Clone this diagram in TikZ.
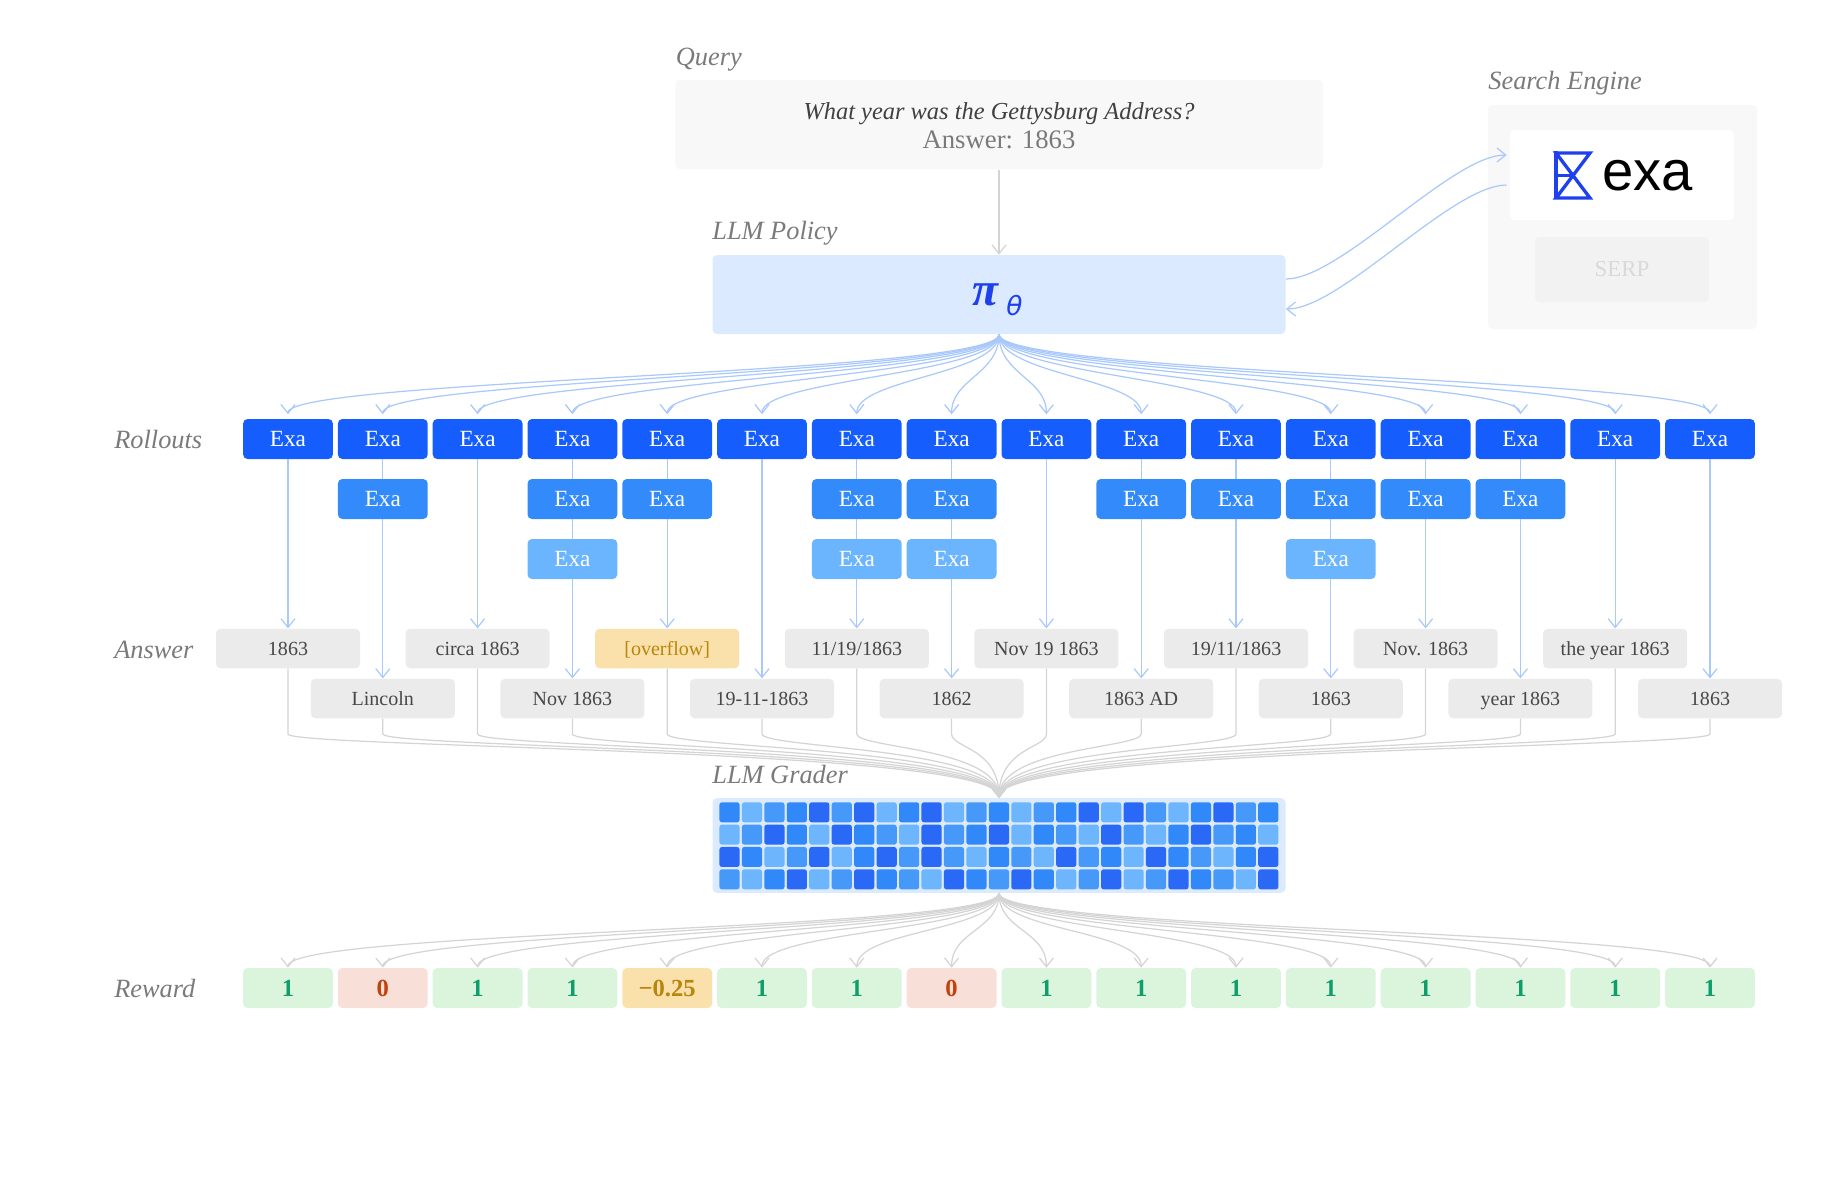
\documentclass[tikz,border=0pt]{standalone}
\usepackage{fontspec}
\setmainfont{Liberation Serif}
\newfontfamily\logofont{Liberation Sans}
\newfontfamily\greekfont{DejaVu Sans}
\usetikzlibrary{arrows.meta,positioning}
\definecolor{rolla}{HTML}{155DFC}
\definecolor{rollb}{HTML}{338AFA}
\definecolor{rollc}{HTML}{6AB5FD}
\definecolor{celld}{HTML}{2A69F5}
\definecolor{cellm}{HTML}{3088F9}
\definecolor{celll}{HTML}{4799F9}
\definecolor{cellx}{HTML}{6DB5FC}
\definecolor{softblue}{HTML}{DBEAFE}
\definecolor{wireblue}{HTML}{A9C8FC}
\definecolor{wiregray}{HTML}{D4D4D4}
\definecolor{logoblue}{HTML}{1F40ED}
\definecolor{okfill}{HTML}{DBF4DC}
\definecolor{oktext}{HTML}{0F9D6B}
\definecolor{badfill}{HTML}{F8E0D8}
\definecolor{badtext}{HTML}{C2410C}
\definecolor{midfill}{HTML}{FAE1AC}
\definecolor{midtext}{HTML}{B8860B}
\definecolor{panel}{HTML}{F8F8F8}
\begin{document}
\begin{tikzpicture}
    \tikzstyle{arrow} = [line width=0.7pt, wireblue, -{Straight Barb[length=5pt,width=8pt]}]
    \tikzstyle{wire} = [line width=0.7pt, wireblue]
    \tikzstyle{arrowgray} = [line width=0.7pt, wiregray, -{Straight Barb[length=5pt,width=8pt]}]
    \tikzstyle{tag} = [font=\fontsize{15}{18}\selectfont\itshape, text=black!52, inner sep=0pt, anchor=base west]
    \tikzstyle{box} = [rounded corners=0.09cm, inner sep=0pt, text centered]
    \tikzstyle{rollout} = [box, minimum width=1.796cm, minimum height=0.8cm, text=white, font=\fontsize{13.2}{15}\selectfont]
    \tikzstyle{rolla} = [rollout, fill=rolla]
    \tikzstyle{rollb} = [rollout, fill=rollb]
    \tikzstyle{rollc} = [rollout, fill=rollc]
    \tikzstyle{answer} = [box, minimum width=2.88cm, minimum height=0.79cm, text height=0.29cm, text depth=0.02cm, fill=black!8, text=black!72, font=\fontsize{11.4}{14}\selectfont]
    \tikzstyle{reward} = [box, minimum width=1.796cm, minimum height=0.8cm, font=\fontsize{14}{16}\selectfont\bfseries]
    \tikzstyle{rewardok} = [reward, fill=okfill, text=oktext]
    \tikzstyle{rewardbad} = [reward, fill=badfill, text=badtext]
    \tikzstyle{rewardmid} = [reward, fill=midfill, text=midtext]
    \tikzstyle{cell} = [rounded corners=0.05cm, minimum width=0.404cm, minimum height=0.4cm, inner sep=0pt]
    \useasboundingbox (0,0) rectangle (36.8,-23.54);
    \node[box, minimum width=12.95cm, minimum height=1.786cm, fill=panel] (Q) at (19.98,-2.493) {};
    \node[font=\fontsize{13.9}{18}\selectfont\itshape, text=black!75, inner sep=0pt, anchor=base] (Qtext) at (19.98,-2.38) {What year was the Gettysburg Address?};
    \node[font=\fontsize{15.2}{18}\selectfont, text=black!52, inner sep=0pt, anchor=base] (Qans) at (19.98,-2.96) {Answer: 1863};
    \node[box, minimum width=11.46cm, minimum height=1.58cm, fill=softblue] (P) at (19.98,-5.89) {};
    \node[inner sep=0pt, anchor=base, text=logoblue, font=\fontsize{27}{30}\selectfont\bfseries\itshape] (Ppi) at (19.71,-6.1) {π};
    \node[inner sep=0pt, anchor=base, text=logoblue, font=\fontsize{15}{18}\selectfont\greekfont\itshape] (Ptheta) at (20.29,-6.3) {θ};
    \node[box, minimum width=5.38cm, minimum height=4.48cm, fill=panel] (S) at (32.45,-4.34) {};
    \node[box, minimum width=4.48cm, minimum height=1.8cm, fill=white] (E) at (32.44,-3.5) {};
    \node[box, minimum width=3.48cm, minimum height=1.3cm, fill=black!5, text=black!15, font=\fontsize{13}{15}\selectfont] (SERP) at (32.44,-5.39) {SERP};
    \node[inner sep=0pt, anchor=base, font=\fontsize{32}{34}\selectfont\logofont] (exa) at (32.95,-3.8) {exa};
    \draw[logoblue, line width=1.9pt, line join=miter] (31.12,-3.06) -- (31.8,-3.06) -- (31.12,-3.96) -- (31.8,-3.96) -- (31.12,-3.06) -- cycle;
    \draw[logoblue, line width=1.9pt] (31.12,-3.02) -- (31.12,-3.98);
    \draw[logoblue, line width=1.2pt] (31.12,-3.51) -- (31.46,-3.51);
    \node[tag] (Qtag) at (13.51,-1.3) {Query};
    \node[tag] (Ptag) at (14.24,-4.78) {LLM Policy};
    \node[tag] (Stag) at (29.76,-1.78) {Search Engine};
    \node[tag] (Gtag) at (14.24,-15.66) {LLM Grader};
    \node[tag] (Rtag) at (2.28,-8.96) {Rollouts};
    \node[tag] (Atag) at (2.28,-13.16) {Answer};
    \node[tag] (Wtag) at (2.28,-19.94) {Reward};
    \node[rolla] (R1) at (5.76,-8.78) {Exa};
    \foreach \a [count=\b from 1] in {2,...,16}
        \node[rolla, right of = R\b, xshift = 0.896cm] (R\a) {Exa};
    \foreach \a in {2,4,5,7,8,10,11,12,13,14}
        \node[rollb, below of = R\a, yshift = -0.2cm] (S\a) {Exa};
    \foreach \a in {4,7,8,12}
        \node[rollc, below of = S\a, yshift = -0.2cm] (T\a) {Exa};
    \node[answer, below of = R1, yshift = -3.19cm] (A1) {1863};
    \node[answer, below of = R2, yshift = -4.19cm] (A2) {Lincoln};
    \node[answer, below of = R3, yshift = -3.19cm] (A3) {circa 1863};
    \node[answer, below of = R4, yshift = -4.19cm] (A4) {Nov 1863};
    \node[answer, below of = R5, yshift = -3.19cm, fill=midfill, text=midtext] (A5) {[overflow]};
    \node[answer, below of = R6, yshift = -4.19cm] (A6) {19-11-1863};
    \node[answer, below of = R7, yshift = -3.19cm] (A7) {11/19/1863};
    \node[answer, below of = R8, yshift = -4.19cm] (A8) {1862};
    \node[answer, below of = R9, yshift = -3.19cm] (A9) {Nov 19 1863};
    \node[answer, below of = R10, yshift = -4.19cm] (A10) {1863 AD};
    \node[answer, below of = R11, yshift = -3.19cm] (A11) {19/11/1863};
    \node[answer, below of = R12, yshift = -4.19cm] (A12) {1863};
    \node[answer, below of = R13, yshift = -3.19cm] (A13) {Nov. 1863};
    \node[answer, below of = R14, yshift = -4.19cm] (A14) {year 1863};
    \node[answer, below of = R15, yshift = -3.19cm] (A15) {the year 1863};
    \node[answer, below of = R16, yshift = -4.19cm] (A16) {1863};
    \node[box, minimum width=11.46cm, minimum height=1.894cm, fill=softblue] (G) at (19.98,-16.91) {};
    \foreach \rowcells [count=\r from 0] in {
        m,x,l,m,d,l,d,x,m,d,x,l,m,x,l,m,d,x,d,l,x,m,d,l,m,
        x,l,d,m,x,d,m,l,x,d,l,m,d,x,m,l,x,d,l,x,m,d,l,m,x,
        d,m,x,l,d,x,m,d,l,d,l,x,m,l,x,d,l,m,x,d,m,l,x,m,d,
        l,x,m,d,x,l,d,m,l,x,d,m,l,d,m,x,l,d,x,l,d,m,l,x,d}
        \pgfmathtruncatemacro{\cx}{mod(\r,25)}
        \pgfmathtruncatemacro{\cy}{\r/25}
        \node[cell, fill=cell\rowcells] (C\cy-\cx) at (14.59+0.449*\cx,-16.246-0.4467*\cy) {};
    \node[rewardok, below of = A1, yshift = -5.79cm] (W1) {1};
    \node[rewardbad, right of = W1, xshift = 0.896cm] (W2) {0};
    \node[rewardok, right of = W2, xshift = 0.896cm] (W3) {1};
    \node[rewardok, right of = W3, xshift = 0.896cm] (W4) {1};
    \node[rewardmid, right of = W4, xshift = 0.896cm] (W5) {−0.25};
    \node[rewardok, right of = W5, xshift = 0.896cm] (W6) {1};
    \node[rewardok, right of = W6, xshift = 0.896cm] (W7) {1};
    \node[rewardbad, right of = W7, xshift = 0.896cm] (W8) {0};
    \foreach \a [count=\b from 8] in {9,...,16}
        \node[rewardok, right of = W\b, xshift = 0.896cm] (W\a) {1};
    \coordinate (knee) at (0,-14.68);
    \draw[arrowgray] (Q.south)--(P.north);
    \draw[arrow] ([yshift=0.31cm]P.east) .. controls +(1.1,0) and +(-1.1,0) .. ([xshift=-0.06cm,yshift=0.4cm]E.west);
    \draw[arrow] ([xshift=-0.06cm,yshift=-0.2cm]E.west) .. controls +(-1.1,0) and +(1.1,0) .. ([yshift=-0.29cm]P.east);
    \foreach \a in {1,...,16} {
        \draw[arrow, shorten >=2.5pt] (P.south) .. controls +(0,-0.8) and +(0,0.8) .. (R\a.north);
        \draw[arrowgray] (A\a.south) -- (A\a.south |- knee) .. controls +(0,-0.28) and +(0,1.0) .. (G.north);
        \draw[arrowgray] (G.south) .. controls +(0,-0.75) and +(0,0.75) .. (W\a.north);
    }
    \foreach \a in {1,3,6,9,15,16}
        \draw[arrow] (R\a.south)--(A\a.north);
    \foreach \a in {2,5,10,11,13,14} {
        \draw[wire] (R\a.south)--(S\a.north);
        \draw[arrow] (S\a.south)--(A\a.north);
    }
    \foreach \a in {4,7,8,12} {
        \draw[wire] (R\a.south)--(S\a.north);
        \draw[wire] (S\a.south)--(T\a.north);
        \draw[arrow] (T\a.south)--(A\a.north);
    }
\end{tikzpicture}
\end{document}
